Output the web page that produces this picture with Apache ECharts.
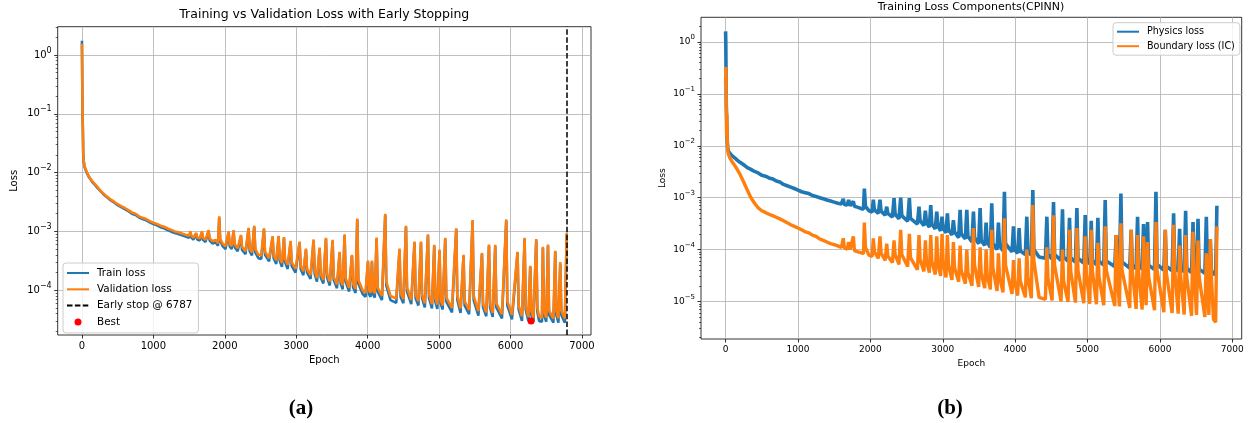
<!DOCTYPE html>
<html><head><meta charset="utf-8">
<script src="https://cdn.jsdelivr.net/npm/echarts@6/dist/echarts.min.js"></script>
<style>html,body{margin:0;padding:0;background:#fff}#c{width:1248px;height:423px}</style>
</head><body><div id="c"></div>
<script>
// ---------- DATA ----------
const earlyStopEpoch = 6787;
const bestA = [[6287, 3.0e-5]];

const valA = [[0,1.55],[4,0.4],[8,0.08],[12,0.06],[18,0.022],[25,0.016],[35,0.013],[50,0.0115],[75,0.0098],[100,0.0085],[150,0.007],[200,0.006],[250,0.0051],[300,0.0044],[350,0.0039],[400,0.0035],[450,0.0032],[500,0.0029],[550,0.0027],[600,0.0025],[650,0.0023],[700,0.0021],[750,0.002],[800,0.0018],[850,0.0017],[900,0.00162],[950,0.0015],[1000,0.0014],[1050,0.00134],[1100,0.00125],[1150,0.0012],[1200,0.00112],[1250,0.00106],[1300,0.001],[1350,0.00097],[1400,0.00092],[1450,0.00088],[1500,0.00084],[1517,0.001],[1530,0.00086],[1560,0.00078],[1600,0.00094],[1615,0.00079],[1650,0.00076],[1680,0.001],[1695,0.00078],[1730,0.00072],[1773,0.00105],[1788,0.00076],[1830,0.00068],[1870,0.00072],[1905,0.00063],[1922,0.0018],[1935,0.00075],[1970,0.00062],[2010,0.00056],[2053,0.001],[2068,0.00062],[2095,0.00056],[2123,0.00105],[2138,0.0006],[2180,0.00052],[2226,0.00087],[2240,0.00055],[2290,0.00046],[2333,0.00115],[2348,0.00052],[2380,0.00044],[2412,0.00125],[2427,0.0005],[2470,0.0004],[2510,0.00039],[2548,0.00113],[2563,0.00045],[2620,0.00035],[2669,0.00083],[2684,0.0004],[2720,0.00032],[2753,0.00084],[2768,0.00036],[2800,0.00029],[2828,0.0008],[2843,0.00034],[2880,0.00027],[2921,0.00069],[2936,0.0003],[2990,0.00023],[3047,0.00067],[3062,0.00026],[3100,0.00021],[3136,0.00051],[3151,0.00023],[3200,0.00018],[3243,0.00073],[3258,0.00022],[3290,0.00016],[3327,0.00053],[3342,0.00019],[3380,0.00015],[3416,0.00078],[3431,0.00019],[3470,0.00014],[3509,0.00072],[3524,0.00017],[3570,0.000125],[3607,0.00045],[3622,0.00015],[3650,0.00012],[3677,0.00089],[3692,0.00016],[3740,0.00011],[3780,0.0004],[3795,0.00013],[3830,0.000105],[3854,0.00166],[3869,0.00015],[3930,0.0001],[3970,0.00009],[4004,0.00032],[4019,0.0001],[4040,0.00009],[4060,0.00032],[4075,0.0001],[4100,0.000088],[4125,0.00079],[4140,0.00011],[4200,0.00008],[4246,0.002],[4261,0.00014],[4320,0.00008],[4400,0.000072],[4446,0.00051],[4461,0.00009],[4500,0.00007],[4536,0.00125],[4551,0.00011],[4610,0.000068],[4656,0.00067],[4671,0.000085],[4710,0.000065],[4746,0.00067],[4761,0.000085],[4800,0.00006],[4844,0.00089],[4859,0.000085],[4900,0.000058],[4932,0.00059],[4947,0.000075],[4975,0.000057],[5006,0.00049],[5021,0.00007],[5050,0.000055],[5086,0.00078],[5101,0.000075],[5180,0.00005],[5240,0.00113],[5255,0.00008],[5300,0.000049],[5342,0.0004],[5357,0.000065],[5420,0.000046],[5469,0.00156],[5484,0.00008],[5550,0.000044],[5600,0.00043],[5615,0.00006],[5660,0.000042],[5698,0.0006],[5713,0.00006],[5750,0.000041],[5786,0.00059],[5801,0.00006],[5880,0.000039],[5940,0.0016],[5955,0.000065],[6020,0.000038],[6098,0.00045],[6113,0.000055],[6160,0.000036],[6197,0.00078],[6212,0.000055],[6250,0.000035],[6276,0.00026],[6291,0.000045],[6320,0.000034],[6360,0.00074],[6375,0.00005],[6400,0.000036],[6440,0.000034],[6453,0.00055],[6468,0.000045],[6500,0.000034],[6524,0.0006],[6539,0.000045],[6600,0.000033],[6626,0.00047],[6641,0.000045],[6670,0.000033],[6696,0.0003],[6711,0.000045],[6760,0.000033],[6780,0.000034],[6787,0.00095]];

const trainA = [[0,1.75],[4,0.45],[8,0.085],[12,0.065],[18,0.021],[25,0.0155],[35,0.0127],[50,0.0112],[75,0.0095],[100,0.0083],[150,0.0068],[200,0.0058],[250,0.005],[300,0.0043],[350,0.0038],[400,0.0034],[450,0.0031],[500,0.0028],[550,0.0026],[600,0.0024],[650,0.0022],[700,0.002],[750,0.0019],[800,0.00172],[850,0.00162],[900,0.00154],[950,0.00143],[1000,0.00133],[1050,0.00127],[1100,0.00118],[1150,0.00113],[1200,0.00105],[1250,0.00099],[1300,0.00094],[1350,0.0009],[1400,0.00086],[1450,0.00082],[1500,0.00078],[1517,0.00095],[1530,0.0008],[1560,0.00072],[1600,0.0009],[1615,0.00073],[1650,0.0007],[1680,0.00095],[1695,0.00072],[1730,0.00066],[1773,0.001],[1788,0.0007],[1830,0.00062],[1870,0.00066],[1905,0.00057],[1922,0.0017],[1935,0.0007],[1970,0.00056],[2010,0.0005],[2053,0.00095],[2068,0.00056],[2095,0.0005],[2123,0.001],[2138,0.00054],[2180,0.00046],[2226,0.00082],[2240,0.00049],[2290,0.00041],[2333,0.0011],[2348,0.00046],[2380,0.00039],[2412,0.0012],[2427,0.00044],[2470,0.00035],[2510,0.00034],[2548,0.00107],[2563,0.0004],[2620,0.00031],[2669,0.00079],[2684,0.00035],[2720,0.00028],[2753,0.0008],[2768,0.00032],[2800,0.00025],[2828,0.00076],[2843,0.0003],[2880,0.00023],[2921,0.00065],[2936,0.00026],[2990,0.0002],[3047,0.00063],[3062,0.00023],[3100,0.00018],[3136,0.00048],[3151,0.0002],[3200,0.000155],[3243,0.00069],[3258,0.00019],[3290,0.00014],[3327,0.0005],[3342,0.000165],[3380,0.00013],[3416,0.00074],[3431,0.000165],[3470,0.00012],[3509,0.00068],[3524,0.00015],[3570,0.000108],[3607,0.00042],[3622,0.00013],[3650,0.000104],[3677,0.00085],[3692,0.00014],[3740,0.000095],[3780,0.00038],[3795,0.000112],[3830,0.00009],[3854,0.00158],[3869,0.00013],[3930,0.000086],[3970,0.000077],[4004,0.0003],[4019,0.000086],[4040,0.000077],[4060,0.0003],[4075,0.000086],[4100,0.000075],[4125,0.00075],[4140,0.000095],[4200,0.000068],[4246,0.0019],[4261,0.00012],[4320,0.000068],[4400,0.000061],[4446,0.00048],[4461,0.000077],[4500,0.00006],[4536,0.0012],[4551,0.000095],[4610,0.000058],[4656,0.00064],[4671,0.000073],[4710,0.000055],[4746,0.00064],[4761,0.000073],[4800,0.000051],[4844,0.00085],[4859,0.000073],[4900,0.000049],[4932,0.00056],[4947,0.000064],[4975,0.000048],[5006,0.00046],[5021,0.00006],[5050,0.000047],[5086,0.00074],[5101,0.000064],[5180,0.000042],[5240,0.00107],[5255,0.000068],[5300,0.000041],[5342,0.00038],[5357,0.000055],[5420,0.000039],[5469,0.00148],[5484,0.000068],[5550,0.000037],[5600,0.00041],[5615,0.000051],[5660,0.000036],[5698,0.00057],[5713,0.000051],[5750,0.000035],[5786,0.00056],[5801,0.000051],[5880,0.000033],[5940,0.00152],[5955,0.000055],[6020,0.000032],[6098,0.00043],[6113,0.000047],[6160,0.00003],[6197,0.00074],[6212,0.000047],[6250,0.00003],[6276,0.00025],[6291,0.000038],[6320,0.000029],[6360,0.0007],[6375,0.000043],[6400,0.00003],[6440,0.000029],[6453,0.00052],[6468,0.000038],[6500,0.000029],[6524,0.00057],[6539,0.000038],[6600,0.000028],[6626,0.00045],[6641,0.000038],[6670,0.000028],[6696,0.00028],[6711,0.000038],[6760,0.000028],[6780,0.00003],[6787,0.0009]];

const physB = [[0,1.6],[3,1.0],[6,0.3],[10,0.06],[14,0.04],[18,0.02],[24,0.012],[30,0.009],[40,0.0078],[60,0.0072],[80,0.0066],[100,0.0062],[130,0.0058],[160,0.0053],[200,0.0048],[250,0.0043],[300,0.0038],[350,0.0035],[400,0.0032],[450,0.003],[500,0.0027],[550,0.0026],[600,0.0024],[650,0.0023],[700,0.0021],[750,0.002],[800,0.0018],[850,0.0017],[900,0.0016],[950,0.0015],[1000,0.0014],[1050,0.0013],[1100,0.00125],[1150,0.0012],[1200,0.0011],[1250,0.00105],[1300,0.001],[1350,0.00095],[1400,0.0009],[1450,0.00086],[1500,0.00082],[1550,0.00078],[1600,0.00076],[1626,0.00095],[1640,0.00074],[1680,0.00072],[1700,0.0009],[1720,0.0007],[1765,0.00085],[1780,0.00068],[1830,0.00065],[1870,0.00062],[1905,0.0006],[1917,0.0015],[1932,0.00068],[1980,0.00056],[2025,0.00053],[2041,0.00091],[2056,0.00058],[2110,0.0005],[2133,0.00091],[2148,0.00055],[2205,0.00046],[2226,0.00067],[2241,0.0005],[2305,0.00042],[2327,0.00098],[2342,0.00048],[2395,0.00039],[2419,0.001],[2434,0.00045],[2515,0.00035],[2539,0.00098],[2554,0.0004],[2650,0.00031],[2672,0.00067],[2687,0.00036],[2740,0.00029],[2760,0.00056],[2775,0.00033],[2815,0.00027],[2834,0.00072],[2849,0.00031],[2897,0.00025],[2917,0.00054],[2932,0.00029],[2970,0.00023],[2990,0.00043],[3005,0.00026],[3045,0.00021],[3064,0.0005],[3079,0.00024],[3127,0.00019],[3147,0.00037],[3162,0.00022],[3220,0.00017],[3240,0.00058],[3255,0.0002],[3312,0.00016],[3332,0.00058],[3347,0.00018],[3404,0.00014],[3424,0.00054],[3439,0.00017],[3496,0.00013],[3516,0.00063],[3531,0.00015],[3580,0.00012],[3599,0.00033],[3614,0.00014],[3657,0.00011],[3677,0.00078],[3692,0.00013],[3750,0.0001],[3769,0.00033],[3784,0.00012],[3832,0.000095],[3852,0.0013],[3867,0.00013],[3957,0.00009],[3977,0.00028],[3992,0.0001],[4035,0.000085],[4055,0.00026],[4070,0.000095],[4141,0.00008],[4161,0.00043],[4176,0.00009],[4224,0.000078],[4244,0.0014],[4259,0.0001],[4330,0.000072],[4418,0.000068],[4438,0.00043],[4453,0.00008],[4510,0.000066],[4530,0.00082],[4545,0.00008],[4634,0.000062],[4654,0.0006],[4669,0.000072],[4731,0.00006],[4751,0.00041],[4766,0.00007],[4833,0.000057],[4853,0.00063],[4868,0.000068],[4948,0.000055],[4968,0.00046],[4983,0.000065],[5031,0.000053],[5051,0.00036],[5066,0.000062],[5123,0.000051],[5143,0.00041],[5158,0.00006],[5224,0.00005],[5244,0.0009],[5259,0.00006],[5376,0.000047],[5396,0.00019],[5411,0.000055],[5441,0.000046],[5461,0.0012],[5476,0.000058],[5583,0.000044],[5603,0.00024],[5618,0.00005],[5671,0.000043],[5691,0.00043],[5706,0.00005],[5754,0.000042],[5774,0.00031],[5789,0.00005],[5809,0.000042],[5829,0.00034],[5844,0.00005],[5925,0.000041],[5945,0.0013],[5960,0.000052],[6054,0.00004],[6074,0.00024],[6089,0.000048],[6169,0.000039],[6189,0.0005],[6204,0.000046],[6252,0.000038],[6272,0.00025],[6287,0.000045],[6335,0.000037],[6355,0.00056],[6370,0.000044],[6437,0.000036],[6457,0.00034],[6472,0.000043],[6506,0.000036],[6526,0.00039],[6541,0.000042],[6621,0.000035],[6641,0.00043],[6656,0.000042],[6676,0.000035],[6696,0.00016],[6711,0.00004],[6740,0.000034],[6770,0.000033],[6787,0.0007]];

const bcB = [[0,0.16],[3,0.33],[6,0.25],[10,0.05],[14,0.015],[18,0.04],[24,0.012],[30,0.008],[40,0.0068],[60,0.0058],[80,0.0052],[100,0.0047],[130,0.0041],[160,0.0035],[200,0.0028],[250,0.002],[300,0.0014],[350,0.001],[400,0.00078],[450,0.00064],[500,0.00056],[550,0.00052],[600,0.00048],[650,0.00045],[700,0.00042],[750,0.00039],[800,0.00036],[850,0.00033],[900,0.0003],[950,0.00028],[1000,0.00026],[1050,0.00024],[1100,0.00022],[1150,0.00021],[1200,0.00019],[1250,0.00018],[1300,0.00016],[1350,0.00015],[1400,0.00014],[1450,0.00013],[1500,0.000125],[1550,0.000118],[1600,0.00011],[1626,0.000165],[1640,0.000108],[1680,0.000102],[1700,0.00014],[1720,0.0001],[1765,0.00018],[1780,0.000095],[1830,0.00009],[1870,0.000087],[1905,0.000083],[1917,0.00033],[1932,0.00011],[1980,0.000078],[2025,0.000074],[2041,0.000165],[2056,0.00009],[2110,0.000068],[2133,0.00018],[2148,0.000085],[2205,0.000062],[2226,0.00013],[2241,0.000075],[2305,0.000056],[2327,0.00015],[2342,0.00008],[2395,0.000052],[2419,0.00024],[2434,0.00008],[2515,0.000047],[2539,0.0002],[2554,0.00007],[2650,0.000041],[2672,0.00019],[2687,0.000065],[2740,0.000038],[2760,0.00015],[2775,0.00006],[2815,0.000036],[2834,0.00019],[2849,0.00006],[2897,0.000033],[2917,0.00018],[2932,0.000055],[2970,0.000031],[2990,0.0002],[3005,0.000055],[3045,0.000029],[3064,0.00019],[3079,0.00005],[3127,0.000026],[3147,0.00014],[3162,0.000045],[3220,0.000024],[3240,0.00012],[3255,0.00004],[3312,0.000022],[3332,0.0001],[3347,0.000036],[3404,0.00002],[3424,0.00026],[3439,0.00005],[3496,0.000019],[3516,0.00011],[3531,0.000035],[3580,0.000018],[3599,0.0001],[3614,0.000032],[3657,0.000017],[3677,0.00024],[3692,0.000045],[3750,0.000016],[3769,0.000085],[3784,0.00003],[3832,0.000015],[3852,0.0004],[3867,0.00005],[3957,0.000014],[3977,0.000063],[3992,0.000025],[4035,0.000013],[4055,0.000068],[4070,0.000025],[4141,0.000012],[4161,0.0001],[4176,0.00003],[4224,0.0000115],[4244,0.00072],[4259,0.00006],[4330,0.000012],[4418,0.000011],[4438,0.00011],[4453,0.000028],[4510,0.0000105],[4530,0.00046],[4545,0.00005],[4634,0.00001],[4654,0.0001],[4669,0.000025],[4731,0.0000098],[4751,0.00024],[4766,0.00004],[4833,0.0000095],[4853,0.00026],[4868,0.00004],[4948,0.0000092],[4968,0.00018],[4983,0.000035],[5031,0.000009],[5051,0.00024],[5066,0.00004],[5123,0.0000088],[5143,0.000135],[5158,0.00003],[5224,0.0000085],[5244,0.00028],[5259,0.00004],[5376,0.0000082],[5396,0.00019],[5411,0.000035],[5441,0.000008],[5461,0.00032],[5476,0.00004],[5583,0.0000075],[5603,0.00024],[5618,0.00004],[5671,0.0000072],[5691,0.00019],[5706,0.000035],[5754,0.000007],[5774,0.00018],[5789,0.00003],[5809,0.0000085],[5829,0.00014],[5844,0.00003],[5925,0.0000068],[5945,0.00034],[5960,0.00004],[6054,0.0000062],[6074,0.00024],[6089,0.000035],[6169,0.000006],[6189,0.0003],[6204,0.00004],[6252,0.0000058],[6272,0.00012],[6287,0.00003],[6335,0.0000056],[6355,0.00019],[6370,0.00003],[6437,0.0000053],[6457,0.00022],[6472,0.000035],[6506,0.0000055],[6526,0.00015],[6541,0.00003],[6621,0.000005],[6641,0.000085],[6656,0.000025],[6676,0.0000055],[6696,0.00016],[6711,0.00003],[6740,0.0000045],[6770,0.000004],[6787,0.00028]];

const xTicks = [0, 1000, 2000, 3000, 4000, 5000, 6000, 7000];
const yTicksA = [1e-4, 1e-3, 1e-2, 1e-1, 1];
const yTicksB = [1e-5, 1e-4, 1e-3, 1e-2, 1e-1, 1];

// ---------- STYLE / LAYOUT ----------
const FONT = "'DejaVu Sans', sans-serif";
const xRangeA = [-339.35, 7126.35], yRangeA = [1.73e-5, 3.03];
const xRangeB = [-339.5, 7129.5],  yRangeB = [1.89e-6, 2.99];
const BLUE = '#1f77b4', ORANGE = '#ff7f0e';
const NOSYM = { color: 'rgba(0,0,0,0)', borderColor: 'rgba(0,0,0,0)', borderWidth: 0 };

function minorLogs(range) {
  const lo = Math.log10(range[0]), hi = Math.log10(range[1]), out = [];
  for (let n = Math.floor(lo); n <= Math.ceil(hi); n++)
    for (let k = 2; k <= 9; k++) { const v = n + Math.log10(k); if (v > lo && v < hi) out.push(v); }
  return out;
}
function logFmt(v) {
  const e = Math.round(Math.log10(v));
  return '{b|10}{s|' + (e < 0 ? '\u2212' : '') + Math.abs(e) + '}';
}
function xAxisCfg(grid, range, fs, gap) {
  return {
    type: 'value', gridIndex: grid, min: range[0], max: range[1], splitNumber: 7,
    name: 'Epoch', nameLocation: 'middle', nameGap: gap,
    nameTextStyle: { fontFamily: FONT, fontSize: fs, color: '#000' },
    axisLine: { show: false, onZero: false },
    axisTick: { show: true, length: 3.5, lineStyle: { color: '#000', width: 0.8 }, customValues: xTicks },
    axisLabel: { fontFamily: FONT, fontSize: fs, color: '#000', margin: 6, customValues: xTicks,
                 formatter: v => String(v) },
    splitLine: { show: true, lineStyle: { color: '#b0b0b0', width: 0.8 } }
  };
}
function yAxisCfg(grid, range, ticks, fs, gap) {
  return {
    type: 'log', logBase: 10, gridIndex: grid, min: range[0], max: range[1],
    name: 'Loss', nameLocation: 'middle', nameGap: gap,
    nameTextStyle: { fontFamily: FONT, fontSize: fs, color: '#000' },
    axisLine: { show: false, onZero: false },
    axisTick: { show: true, length: 3.5, lineStyle: { color: '#000', width: 0.8 }, customValues: ticks },
    axisLabel: { margin: 6, customValues: ticks, formatter: logFmt,
      rich: { b: { fontFamily: FONT, fontSize: fs, color: '#000', lineHeight: fs + 7 },
              s: { fontFamily: FONT, fontSize: Math.round(fs * 0.75), color: '#000', verticalAlign: 'top', lineHeight: fs * 0.85 } } },
    splitLine: { show: true, lineStyle: { color: '#b0b0b0', width: 0.8 } }
  };
}
function minorAxisCfg(grid, range) {
  return {
    type: 'value', gridIndex: grid, position: 'left', min: Math.log10(range[0]), max: Math.log10(range[1]),
    axisLine: { show: false, onZero: false }, axisLabel: { show: false }, splitLine: { show: false },
    axisTick: { show: true, length: 2, lineStyle: { color: '#000', width: 0.6 }, customValues: minorLogs(range) }
  };
}

const chart = echarts.init(document.getElementById('c'), null, { renderer: 'canvas' });
const esName = 'Early stop @ ' + earlyStopEpoch;
chart.setOption({
  animation: false,
  backgroundColor: '#fff',
  grid: [
    { left: 57.7, top: 26.7, width: 533.3, height: 308.3, show: true, borderColor: '#000', borderWidth: 0.8, backgroundColor: 'transparent' },
    { left: 701, top: 17.3, width: 540.7, height: 321.7, show: true, borderColor: '#000', borderWidth: 0.8, backgroundColor: 'transparent' }
  ],
  xAxis: [ xAxisCfg(0, xRangeA, 10, 20), xAxisCfg(1, xRangeB, 9, 19) ],
  yAxis: [ yAxisCfg(0, yRangeA, yTicksA, 10, 38), minorAxisCfg(0, yRangeA),
           yAxisCfg(1, yRangeB, yTicksB, 9, 34), minorAxisCfg(1, yRangeB) ],
  legend: [
    { orient: 'vertical', left: 63, top: 263, itemWidth: 22, itemHeight: 7, itemGap: 6.3,
      padding: [5, 6, 6, 3], borderColor: '#cccccc', borderWidth: 1, borderRadius: 3,
      backgroundColor: 'rgba(255,255,255,0.8)',
      textStyle: { fontFamily: FONT, fontSize: 10.4, color: '#000', padding: [0, 0, 0, 3] },
      data: [ { name: 'Train loss', itemStyle: NOSYM }, { name: 'Validation loss', itemStyle: NOSYM },
              { name: esName, itemStyle: NOSYM }, 'Best' ] },
    { orient: 'vertical', left: 1113, top: 22.7, itemWidth: 22, itemHeight: 7, itemGap: 4.5,
      padding: [4, 5, 4, 3], borderColor: '#cccccc', borderWidth: 1, borderRadius: 3,
      backgroundColor: 'rgba(255,255,255,0.8)',
      textStyle: { fontFamily: FONT, fontSize: 9.6, color: '#000', padding: [0, 0, 0, 3] },
      data: [ { name: 'Physics loss', itemStyle: NOSYM }, { name: 'Boundary loss (IC)', itemStyle: NOSYM } ] }
  ],
  graphic: [
    { type: 'text', x: 324.3, y: 15, style: { text: 'Training vs Validation Loss with Early Stopping', align: 'center', verticalAlign: 'middle', fontFamily: FONT, fontSize: 12.5, fill: '#000' } },
    { type: 'text', x: 971, y: 7, style: { text: 'Training Loss Components(CPINN)', align: 'center', verticalAlign: 'middle', fontFamily: FONT, fontSize: 11, fill: '#000' } },
    { type: 'text', x: 301, y: 409, style: { text: '(a)', align: 'center', verticalAlign: 'middle', fontFamily: "'Liberation Serif', serif", fontWeight: 'bold', fontSize: 21, fill: '#000' } },
    { type: 'text', x: 950, y: 409, style: { text: '(b)', align: 'center', verticalAlign: 'middle', fontFamily: "'Liberation Serif', serif", fontWeight: 'bold', fontSize: 21, fill: '#000' } }
  ],
  series: [
    { name: 'Train loss', type: 'line', xAxisIndex: 0, yAxisIndex: 0, data: trainA, symbol: 'none', z: 2,
      itemStyle: { color: BLUE }, lineStyle: { color: BLUE, width: 2.6 } },
    { name: 'Validation loss', type: 'line', xAxisIndex: 0, yAxisIndex: 0, data: valA, symbol: 'none', z: 3,
      itemStyle: { color: ORANGE }, lineStyle: { color: ORANGE, width: 2.6 } },
    { name: esName, type: 'line', xAxisIndex: 0, yAxisIndex: 0, data: [], symbol: 'none', z: 4,
      itemStyle: { color: '#000' }, lineStyle: { color: '#000', width: 1.5, type: [5.5, 2.4] },
      markLine: { silent: true, symbol: ['none', 'none'], label: { show: false },
        lineStyle: { color: '#000', width: 1.5, type: [5.5, 2.4] }, data: [{ xAxis: earlyStopEpoch }] } },
    { name: 'Best', type: 'scatter', xAxisIndex: 0, yAxisIndex: 0, data: bestA, symbol: 'circle', symbolSize: 7, z: 5,
      itemStyle: { color: '#ff0000', opacity: 1 } },
    { name: 'Physics loss', type: 'line', xAxisIndex: 1, yAxisIndex: 2, data: physB, symbol: 'none', z: 2,
      itemStyle: { color: BLUE }, lineStyle: { color: BLUE, width: 3.6 } },
    { name: 'Boundary loss (IC)', type: 'line', xAxisIndex: 1, yAxisIndex: 2, data: bcB, symbol: 'none', z: 3,
      itemStyle: { color: ORANGE }, lineStyle: { color: ORANGE, width: 3.4 } }
  ]
});
</script></body></html>
